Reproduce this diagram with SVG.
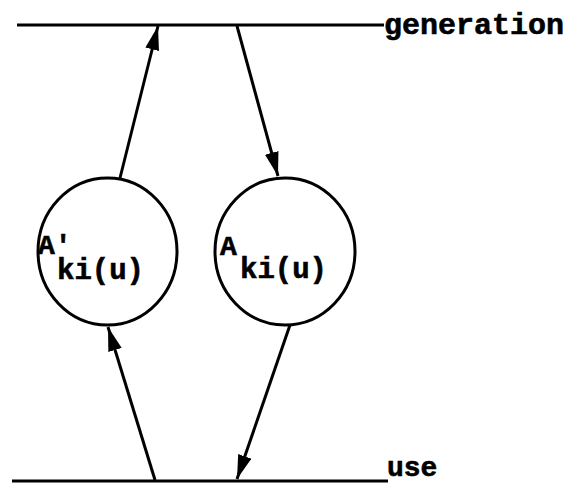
<svg xmlns="http://www.w3.org/2000/svg" width="571" height="484" viewBox="0 0 571 484">
<style>
.ln{stroke:#000;stroke-width:3;fill:none}
.cir{stroke:#000;stroke-width:3;fill:#fff}
.t{font-family:"Liberation Mono","Courier New",monospace;font-weight:bold;fill:#000;stroke:#000;stroke-width:0.6}
</style>
<defs>
<marker id="ah" markerUnits="userSpaceOnUse" markerWidth="26" markerHeight="14" refX="24" refY="7" orient="auto">
<path d="M0,0 L24,7 L0,14 Z" fill="#000"/>
</marker>
</defs>
<rect width="571" height="484" fill="#fff"/>
<g id="generation">
<line class="ln" x1="17" y1="25" x2="384" y2="25"/>
<text class="t" x="384" y="34" font-size="30">generation</text>
</g>
<g id="use">
<line class="ln" x1="12" y1="481" x2="388" y2="481"/>
<text class="t" x="387" y="476" font-size="28">use</text>
</g>
<g id="nodeA1">
<ellipse class="cir" cx="107.5" cy="251.5" rx="69.5" ry="73.5"/>
<text class="t" x="38" y="254" font-size="28">A'</text>
<text class="t" x="57" y="279" font-size="29">ki(u)</text>
</g>
<g id="nodeA">
<ellipse class="cir" cx="285" cy="251.5" rx="70" ry="73.5"/>
<text class="t" x="220" y="255" font-size="28">A</text>
<text class="t" x="240" y="278" font-size="29">ki(u)</text>
</g>
<g id="connectors">
<line class="ln" x1="120" y1="178" x2="158" y2="26" marker-end="url(#ah)"/>
<line class="ln" x1="237" y1="26" x2="278" y2="176" marker-end="url(#ah)"/>
<line class="ln" x1="155" y1="480" x2="108" y2="327" marker-end="url(#ah)"/>
<line class="ln" x1="290" y1="325" x2="237" y2="479" marker-end="url(#ah)"/>
</g>
</svg>
